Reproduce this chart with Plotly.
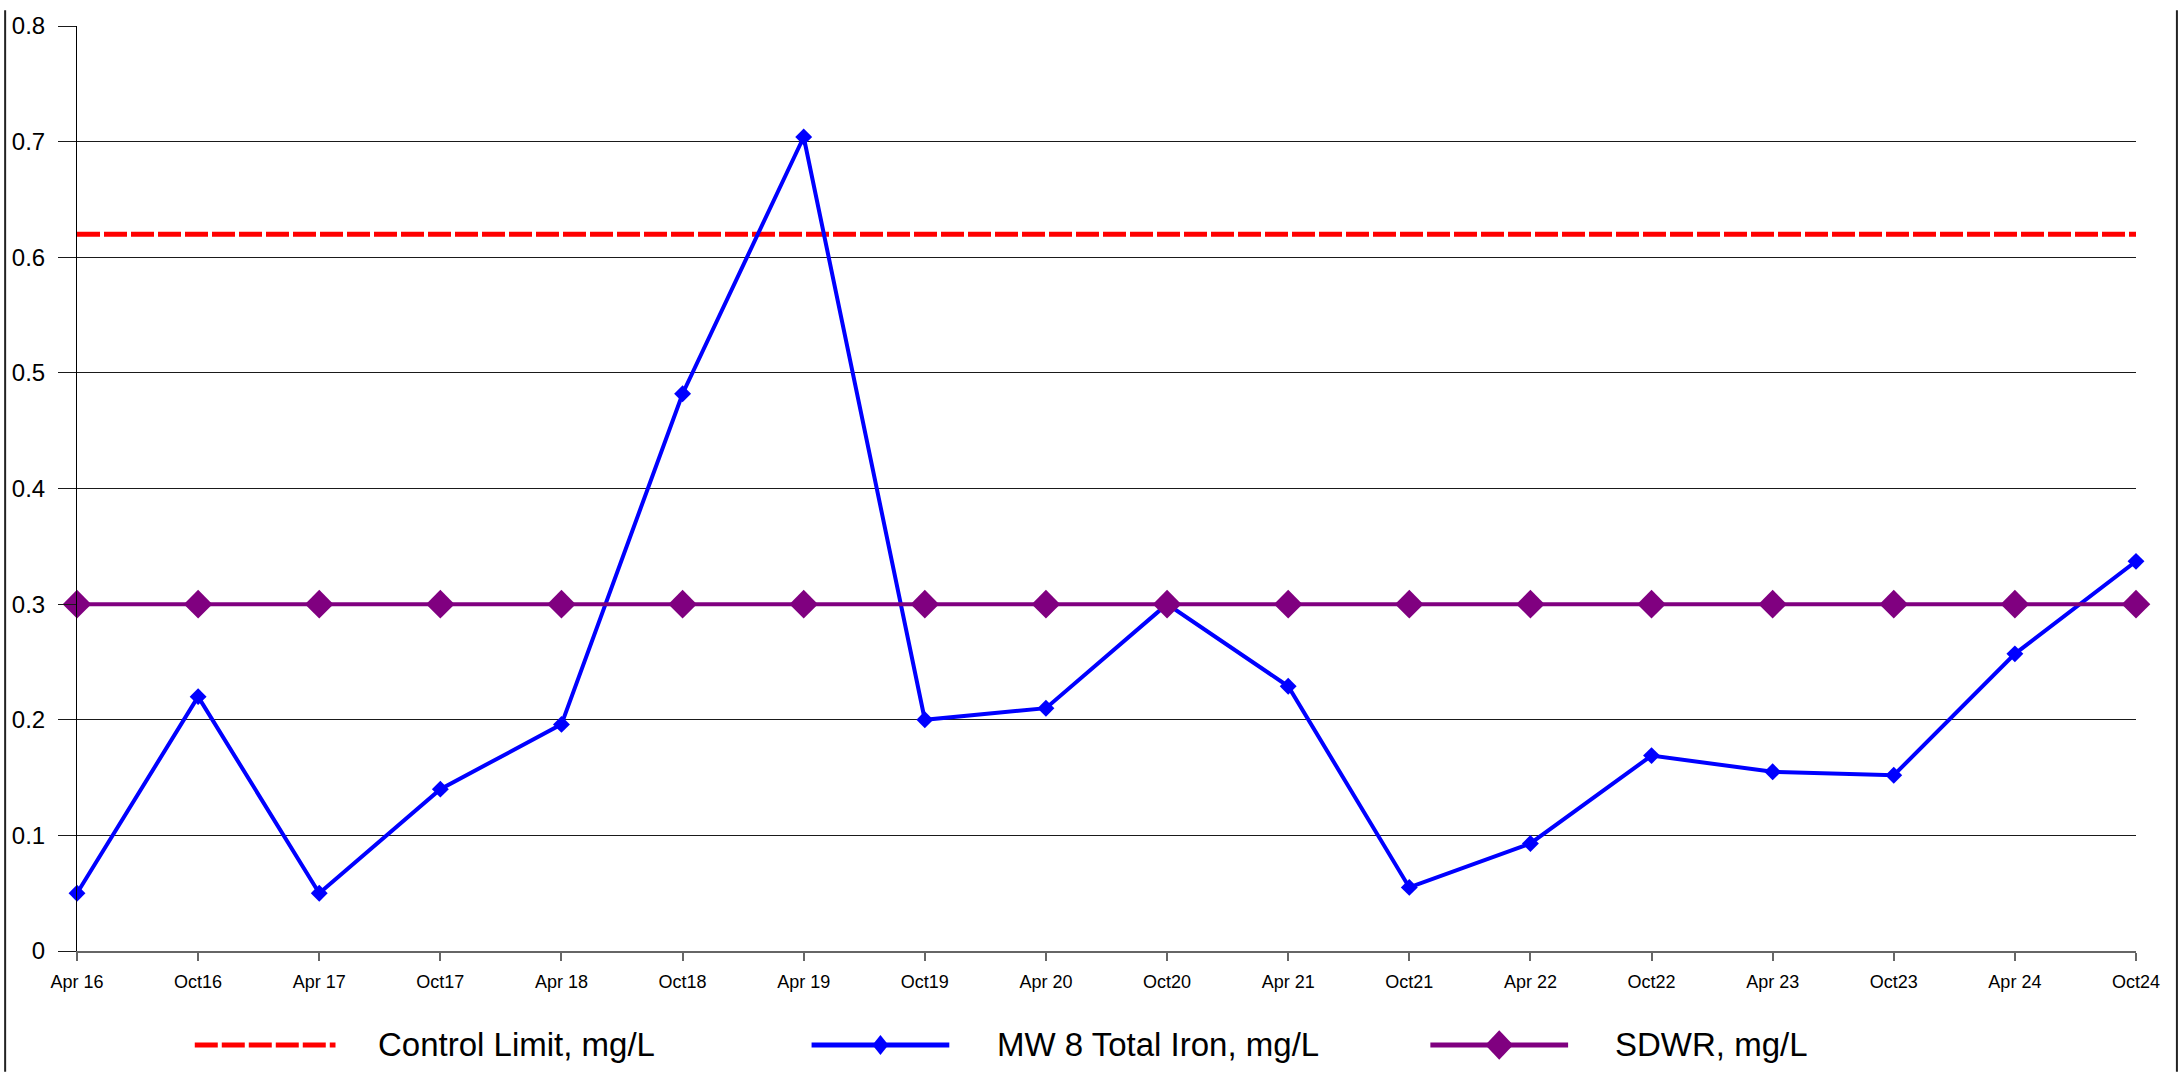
import plotly.graph_objects as go

# Sampling periods (semi-annual)
periods = ["Apr 16", "Oct16", "Apr 17", "Oct17", "Apr 18", "Oct18", "Apr 19", "Oct19",
           "Apr 20", "Oct20", "Apr 21", "Oct21", "Apr 22", "Oct22", "Apr 23", "Oct23",
           "Apr 24", "Oct24"]

# MW 8 total iron results, mg/L
mw8_iron = [0.05, 0.22, 0.05, 0.14, 0.196, 0.482, 0.704, 0.20, 0.21, 0.30,
            0.229, 0.055, 0.093, 0.169, 0.155, 0.152, 0.257, 0.337]

# Reference levels, mg/L
control_limit = [0.62] * len(periods)
sdwr = [0.30] * len(periods)

y_ticks = [0, 0.1, 0.2, 0.3, 0.4, 0.5, 0.6, 0.7, 0.8]

W, H = 2178, 1073
L, R, T, B = 73, 42, 16, 122
PW, PH = W - L - R, H - T - B


def px(x):
    return (x - L) / PW


def py(y):
    return (H - B - y) / PH


FONT = "Liberation Sans, Arial, sans-serif"

xs = list(range(len(periods)))

fig = go.Figure()

fig.add_trace(go.Scatter(
    x=xs, y=control_limit, mode="lines", name="Control Limit, mg/L",
    line=dict(color="#FF0000", width=5, dash="23px,4px"),
    cliponaxis=False, showlegend=False))

fig.add_trace(go.Scatter(
    x=xs, y=mw8_iron, mode="lines+markers", name="MW 8 Total Iron, mg/L",
    line=dict(color="#0000FF", width=4),
    marker=dict(symbol="diamond", size=13, color="#0000FF"),
    cliponaxis=False, showlegend=False))

fig.add_trace(go.Scatter(
    x=xs, y=sdwr, mode="lines+markers", name="SDWR, mg/L",
    line=dict(color="#800080", width=4),
    marker=dict(symbol="diamond", size=22, color="#800080"),
    cliponaxis=False, showlegend=False))

shapes = []
annotations = []

# Legend row along the bottom
leg_y = 1046
legend_items = [
    ("Control Limit, mg/L", "#FF0000", 191, 332, 373, None, "23px,4px"),
    ("MW 8 Total Iron, mg/L", "#0000FF", 809, 947, 993, (8, 10), "solid"),
    ("SDWR, mg/L", "#800080", 1429, 1567, 1612, (14, 15), "solid"),
]
for label, color, x0, x1, tx, dia, dash in legend_items:
    shapes.append(dict(type="line", xref="paper", yref="paper",
                       x0=px(x0), x1=px(x1), y0=py(leg_y), y1=py(leg_y),
                       line=dict(color=color, width=5, dash=dash)))
    if dia:
        cx = (x0 + x1) / 2
        hw, hh = dia
        path = (f"M {px(cx - hw)} {py(leg_y)} L {px(cx)} {py(leg_y - hh)} "
                f"L {px(cx + hw)} {py(leg_y)} L {px(cx)} {py(leg_y + hh)} Z")
        shapes.append(dict(type="path", xref="paper", yref="paper", path=path,
                           fillcolor=color, line=dict(color=color, width=0)))
    annotations.append(dict(text=label, xref="paper", yref="paper",
                            x=px(tx), y=py(leg_y), xanchor="left", yanchor="middle",
                            showarrow=False, font=dict(family=FONT, size=33, color="black")))

# Outer frame edges
for fx in (1, 2177):
    shapes.append(dict(type="line", xref="paper", yref="paper",
                       x0=px(fx), x1=px(fx), y0=py(0), y1=py(H),
                       line=dict(color="#222222", width=2)))

fig.update_layout(
    width=W, height=H,
    margin=dict(l=L, r=R, t=T, b=B, pad=0),
    paper_bgcolor="white", plot_bgcolor="white",
    font=dict(family=FONT, color="black"),
    shapes=shapes, annotations=annotations,
    xaxis=dict(
        range=[0, len(periods) - 1], tickvals=xs, ticktext=periods,
        showgrid=False, zeroline=False,
        showline=True, linecolor="#666666", linewidth=2,
        ticks="outside", ticklen=8, tickcolor="#666666", tickwidth=1.5,
        ticklabelstandoff=5,
        tickfont=dict(family=FONT, size=18, color="black"),
    ),
    yaxis=dict(
        range=[0, 0.8], tickvals=y_ticks, ticktext=[f"{v:g}" for v in y_ticks],
        showgrid=True, gridcolor="#1a1a1a", gridwidth=1,
        zeroline=False, showline=True, linecolor="black", linewidth=1,
        ticks="outside", ticklen=18, tickcolor="#1a1a1a", tickwidth=1,
        ticklabelstandoff=8,
        tickfont=dict(family=FONT, size=24, color="black"),
    ),
)

fig.write_html("out.html")
